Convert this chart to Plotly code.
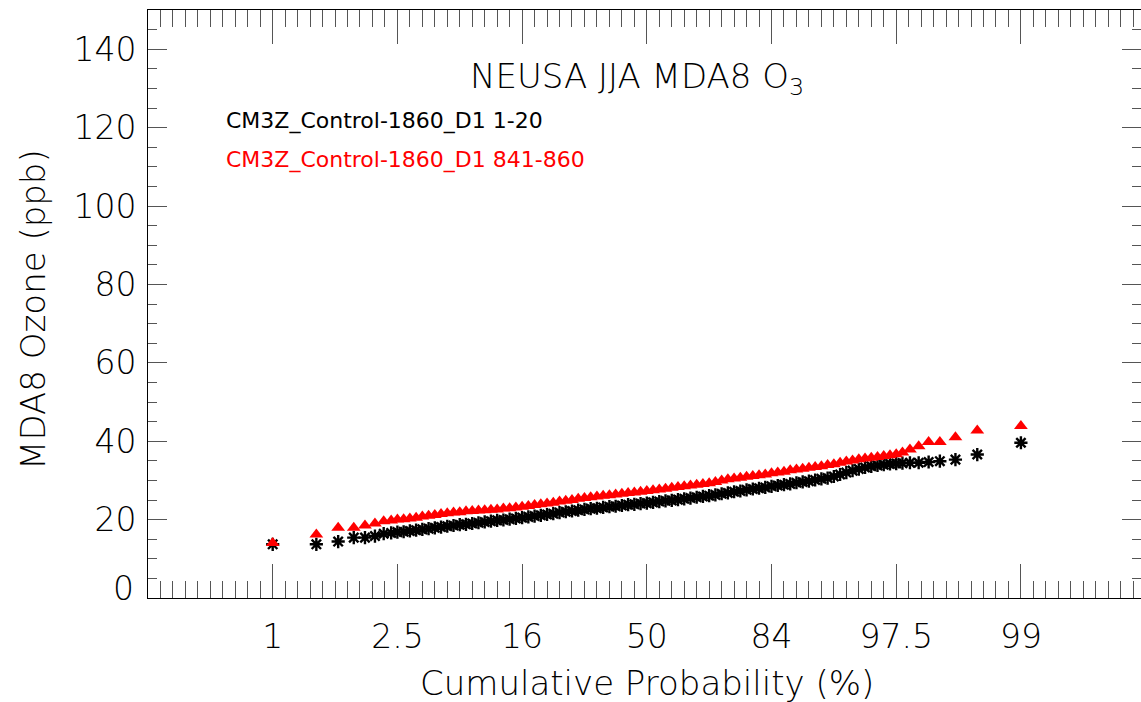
import plotly.graph_objects as go

# x positions in standard-normal units (sigma), shared by both series
sigma = [-3.0, -2.65, -2.475, -2.35, -2.26, -2.18, -2.11, -2.05, -2.0,
         -1.95, -1.90, -1.85, -1.80, -1.75, -1.70, -1.65, -1.60, -1.55, -1.50,
         -1.45, -1.40, -1.35, -1.30, -1.25, -1.20, -1.15, -1.10, -1.05, -1.00,
         -0.95, -0.90, -0.85, -0.80, -0.75, -0.70, -0.65, -0.60, -0.55, -0.50,
         -0.45, -0.40, -0.35, -0.30, -0.25, -0.20, -0.15, -0.10, -0.05, 0.00,
         0.05, 0.10, 0.15, 0.20, 0.25, 0.30, 0.35, 0.40, 0.45, 0.50,
         0.55, 0.60, 0.65, 0.70, 0.75, 0.80, 0.85, 0.90, 0.95, 1.00,
         1.05, 1.10, 1.15, 1.20, 1.25, 1.30, 1.35, 1.40, 1.45, 1.50,
         1.55, 1.60, 1.65, 1.70, 1.75, 1.80, 1.85, 1.90, 1.95,
         2.0, 2.05, 2.11, 2.18, 2.26, 2.35, 2.475, 2.65, 3.0]

# CM3Z_Control-1860_D1 years 1-20 (black asterisks)
ozone_1_20 = [13.7, 13.7, 14.4, 15.4, 15.4, 15.8, 16.4, 16.6, 16.8,
              16.9, 17.1, 17.3, 17.5, 17.7, 17.9, 18.1, 18.3, 18.5, 18.7,
              18.8, 19.0, 19.2, 19.4, 19.6, 19.8, 19.9, 20.1, 20.3, 20.5,
              20.7, 20.9, 21.1, 21.3, 21.5, 21.8, 22.0, 22.2, 22.4, 22.6,
              22.8, 22.9, 23.1, 23.3, 23.4, 23.6, 23.8, 23.9, 24.1, 24.2,
              24.4, 24.6, 24.8, 24.9, 25.1, 25.3, 25.5, 25.7, 25.9, 26.1,
              26.3, 26.6, 26.8, 27.1, 27.3, 27.6, 27.8, 28.0, 28.2, 28.5,
              28.7, 28.9, 29.1, 29.4, 29.6, 29.8, 30.1, 30.4, 30.6, 31.0,
              31.5, 32.0, 32.5, 32.9, 33.3, 33.6, 33.8, 34.0, 34.2,
              34.3, 34.4, 34.5, 34.5, 34.7, 34.9, 35.3, 36.6, 39.6]

# CM3Z_Control-1860_D1 years 841-860 (red triangles)
ozone_841_860 = [14.0, 16.2, 17.9, 17.9, 18.5, 19.0, 19.6, 19.8, 20.0,
                 20.1, 20.3, 20.5, 20.8, 21.0, 21.2, 21.4, 21.6, 21.8, 21.9,
                 22.1, 22.2, 22.3, 22.4, 22.5, 22.6, 22.8, 22.9, 23.1, 23.3,
                 23.5, 23.7, 23.9, 24.1, 24.3, 24.6, 24.8, 25.0, 25.3, 25.5,
                 25.7, 25.9, 26.1, 26.2, 26.4, 26.6, 26.8, 26.9, 27.1, 27.3,
                 27.5, 27.7, 27.9, 28.1, 28.3, 28.5, 28.7, 28.9, 29.1, 29.3,
                 29.6, 30.0, 30.3, 30.5, 30.7, 30.9, 31.1, 31.3, 31.5, 31.8,
                 32.0, 32.2, 32.6, 32.8, 33.0, 33.2, 33.4, 33.6, 33.9, 34.1,
                 34.5, 34.8, 35.1, 35.4, 35.6, 35.8, 36.0, 36.2, 36.4,
                 36.7, 37.1, 37.9, 38.7, 39.8, 39.8, 41.0, 42.7, 43.9]

x_tick_vals = [-3, -2, -1, 0, 1, 2, 3]
x_tick_text = ["1", "2.5", "16", "50", "84", "97.5", "99"]
y_tick_vals = [20, 40, 60, 80, 100, 120, 140]

FONT = "DejaVu Sans"
WEIGHT = 200
TICKC = "#555555"

fig = go.Figure()
fig.add_trace(go.Scatter(
    x=sigma, y=ozone_1_20, mode="markers", name="1-20",
    marker=dict(symbol="asterisk-open", size=11, color="black",
                line=dict(color="black", width=2.4)),
    showlegend=False))
fig.add_trace(go.Scatter(
    x=sigma, y=ozone_841_860, mode="markers", name="841-860",
    marker=dict(symbol="triangle-up", size=12, color="#ff0000",
                line=dict(width=0)),
    showlegend=False))

tickfont = dict(size=33, family=FONT, weight=WEIGHT, color="black")
titlefont = dict(size=34, family=FONT, weight=WEIGHT, color="black")

fig.update_layout(
    width=1141, height=702,
    margin=dict(l=148, r=0, t=10, b=104),
    paper_bgcolor="white", plot_bgcolor="white",
    font=dict(family=FONT, color="black"),
    xaxis=dict(range=[-4, 3.963], showgrid=False, zeroline=False,
               showline=True, linecolor="black", linewidth=1, mirror="ticks",
               ticks="inside", ticklen=34, tickwidth=1, tickcolor=TICKC,
               tickvals=x_tick_vals, ticktext=x_tick_text,
               tickfont=tickfont, ticklabelstandoff=9,
               minor=dict(dtick=0.1, tick0=0, ticks="inside", ticklen=17,
                          tickwidth=1, tickcolor=TICKC, showgrid=False)),
    yaxis=dict(range=[0, 150], showgrid=False, zeroline=False,
               showline=True, linecolor="black", linewidth=1, mirror="ticks",
               ticks="inside", ticklen=19, tickwidth=1, tickcolor=TICKC,
               tickvals=y_tick_vals,
               tickfont=tickfont, ticklabelstandoff=4,
               minor=dict(dtick=5, tick0=0, ticks="inside", ticklen=9,
                          tickwidth=1, tickcolor=TICKC, showgrid=False)),
)

fig.add_annotation(text="0", xref="paper", yref="y", x=0, y=0,
                   xanchor="right", yanchor="middle", xshift=-12, yshift=10,
                   showarrow=False, font=tickfont)
fig.add_annotation(text="NEUSA JJA MDA8 O<sub>3</sub>", xref="paper", yref="paper",
                   x=0.492, y=0.884, xanchor="center", yanchor="middle",
                   showarrow=False, font=titlefont)
fig.add_annotation(text="CM3Z_Control-1860_D1 1-20", xref="paper", yref="paper",
                   x=0.0765, y=0.811, xanchor="left", yanchor="middle",
                   showarrow=False, font=dict(size=22, family=FONT, color="black"))
fig.add_annotation(text="CM3Z_Control-1860_D1 841-860", xref="paper", yref="paper",
                   x=0.0765, y=0.745, xanchor="left", yanchor="middle",
                   showarrow=False, font=dict(size=22, family=FONT, color="#ff0000"))
fig.add_annotation(text="Cumulative Probability (%)", xref="paper", yref="paper",
                   x=0.5025, y=-0.1446, xanchor="center", yanchor="middle",
                   showarrow=False, font=titlefont)
fig.add_annotation(text="MDA8 Ozone (ppb)", xref="paper", yref="paper",
                   x=-0.1158, y=0.49, xanchor="center", yanchor="middle",
                   textangle=-90, showarrow=False, font=titlefont)

fig.write_html("out.html",
               config={"displayModeBar": False},
               post_script="document.body.style.margin='0px';"
                           "document.body.style.overflow='hidden';")
